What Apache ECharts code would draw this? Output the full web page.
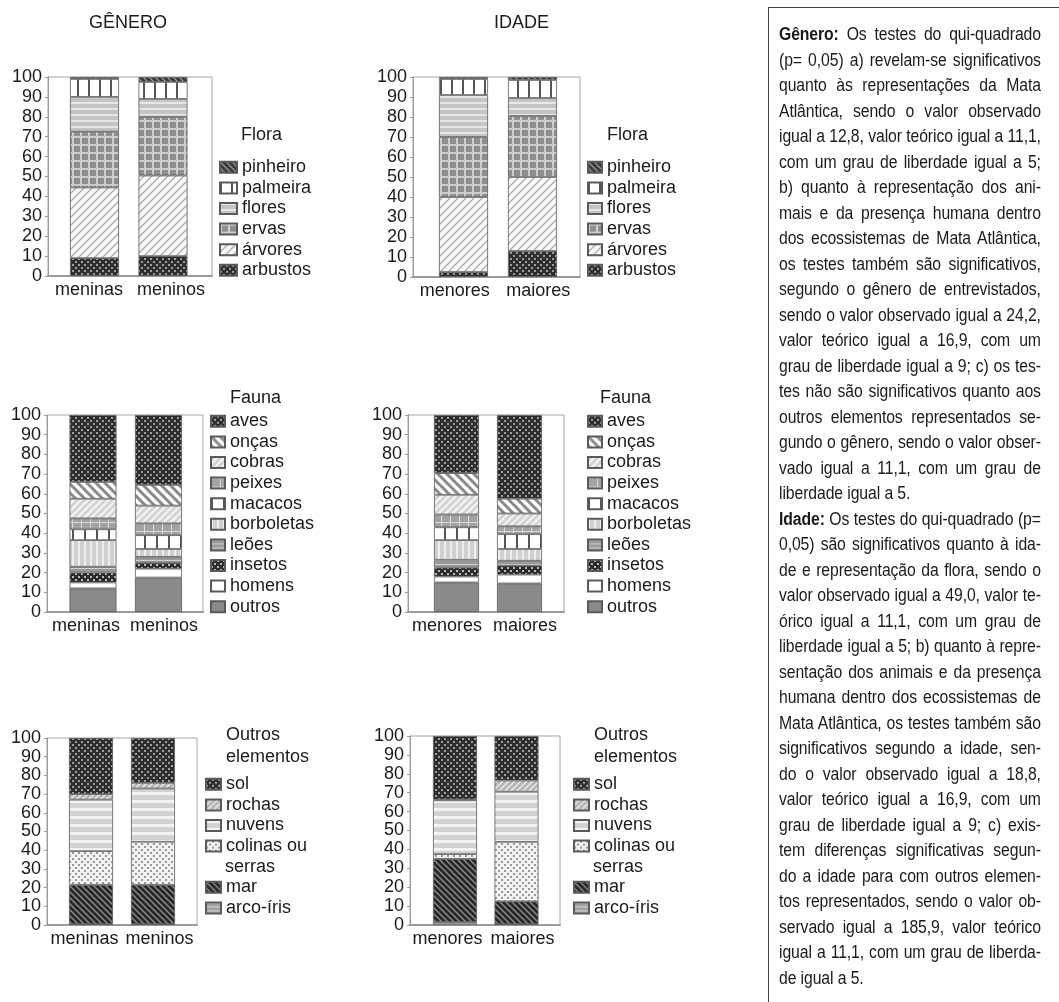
<!DOCTYPE html>
<html><head><meta charset="utf-8">
<script src="https://cdn.jsdelivr.net/npm/echarts@6/dist/echarts.min.js"></script>
<style>
html,body{margin:0;padding:0;background:#fff;}
#wrap{position:relative;width:1059px;height:1002px;overflow:hidden;}
#chart{position:absolute;left:0;top:0;width:1059px;height:1002px;}
#box{position:absolute;left:768px;top:7px;width:300px;height:1000px;border-top:1px solid #444;border-left:1px solid #444;}
#txt{position:absolute;left:779px;top:22px;font-family:'Liberation Sans',Arial,sans-serif;font-size:17.5px;color:#1a1a1a;letter-spacing:-0.1px;}
.ln{height:25.5px;line-height:25.5px;width:291px;transform:scaleX(0.9);transform-origin:0 50%;text-align:justify;text-align-last:justify;white-space:nowrap;}
.ln.end{text-align-last:left;}
</style></head>
<body><div id="wrap"><div id="chart"></div><div id="box"></div><div id="txt"></div></div>
<script>
// ---------- categories & series ----------
const generoCats = ['meninas', 'meninos'];
const idadeCats = ['menores', 'maiores'];
const floraSeries = ['arbustos', 'árvores', 'ervas', 'flores', 'palmeira', 'pinheiro'];
const faunaSeries = ['outros', 'homens', 'insetos', 'leões', 'borboletas', 'macacos', 'peixes', 'cobras', 'onças', 'aves'];
const outrosSeries = ['arco-íris', 'mar', 'colinas ou serras', 'nuvens', 'rochas', 'sol'];
const yTickLabels = ['0','10','20','30','40','50','60','70','80','90','100'];

// ---------- values (%) in series order, bottom -> top ----------
const floraMeninas = [9, 35.5, 28, 17.5, 9, 1];
const floraMeninos = [10, 40.5, 29.5, 9, 8.5, 2.5];
const floraMenores = [2.5, 37.5, 30, 21, 8, 1];
const floraMaiores = [13, 37, 30.5, 9, 9, 1.5];
const faunaMeninas = [12, 3, 5, 3, 13.5, 5.5, 5.5, 10, 8.5, 34];
const faunaMeninos = [17.5, 4.5, 3, 3, 4, 7, 6, 9, 10.5, 35.5];
const faunaMenores = [15, 3, 4.5, 4, 10, 6.5, 6.5, 10, 11, 29.5];
const faunaMaiores = [14.5, 4.5, 4.5, 2.5, 6, 7.5, 4, 6.5, 7.5, 42.5];
const outrosMeninas = [0.5, 21, 18, 27.5, 3, 30];
const outrosMeninos = [0.5, 21, 23, 28.5, 3, 24];
const outrosMenores = [1.5, 33.5, 2.5, 28.5, 0.5, 33.5];
const outrosMaiores = [0.5, 12, 31.5, 26.5, 6, 23.5];

// ---------- texts ----------
const colTitles = ['GÊNERO', 'IDADE'];
const groupTitles = ['Flora', 'Flora', 'Fauna', 'Fauna', 'Outros\nelementos', 'Outros\nelementos'];
const panelLines = [
 'Gênero: Os testes do qui-quadrado',
 '(p= 0,05) a) revelam-se significativos',
 'quanto às representações da Mata',
 'Atlântica, sendo o valor observado',
 'igual a 12,8, valor teórico igual a 11,1,',
 'com um grau de liberdade igual a 5;',
 'b) quanto à representação dos ani-',
 'mais e da presença humana dentro',
 'dos ecossistemas de Mata Atlântica,',
 'os testes também são significativos,',
 'segundo o gênero de entrevistados,',
 'sendo o valor observado igual a 24,2,',
 'valor teórico igual a 16,9, com um',
 'grau de liberdade igual a 9; c) os tes-',
 'tes não são significativos quanto aos',
 'outros elementos representados se-',
 'gundo o gênero, sendo o valor obser-',
 'vado igual a 11,1, com um grau de',
 'liberdade igual a 5.',
 'Idade: Os testes do qui-quadrado (p=',
 '0,05) são significativos quanto à ida-',
 'de e representação da flora, sendo o',
 'valor observado igual a 49,0, valor te-',
 'órico igual a 11,1, com um grau de',
 'liberdade igual a 5; b) quanto à repre-',
 'sentação dos animais e da presença',
 'humana dentro dos ecossistemas de',
 'Mata Atlântica, os testes também são',
 'significativos segundo a idade, sen-',
 'do o valor observado igual a 18,8,',
 'valor teórico igual a 16,9, com um',
 'grau de liberdade igual a 9; c) exis-',
 'tem diferenças significativas segun-',
 'do a idade para com outros elemen-',
 'tos representados, sendo o valor ob-',
 'servado igual a 185,9, valor teórico',
 'igual a 11,1, com um grau de liberda-',
 'de igual a 5.'
];
const paragraphEnds = [18, 37];

// ---------- text panel ----------
(function(){
  const host = document.getElementById('txt');
  panelLines.forEach((t, i) => {
    const d = document.createElement('div');
    d.className = 'ln' + (paragraphEnds.includes(i) ? ' end' : '');
    const m = t.match(/^(Gênero:|Idade:)(.*)$/);
    if (m) { const b = document.createElement('b'); b.textContent = m[1]; d.appendChild(b); d.appendChild(document.createTextNode(m[2])); }
    else d.textContent = t;
    host.appendChild(d);
  });
})();

// ---------- fill patterns ----------
function tile(w, h, bg, fn) {
  const c = document.createElement('canvas'); c.width = w; c.height = h;
  const g = c.getContext('2d'); g.fillStyle = bg; g.fillRect(0, 0, w, h);
  if (fn) fn(g, w, h);
  return { image: c, repeat: 'repeat' };
}
function diag(bg, fg, s, lw, dir) {
  return tile(s, s, bg, g => {
    g.strokeStyle = fg; g.lineWidth = lw; g.beginPath();
    if (dir === '/') { g.moveTo(-1, s + 1); g.lineTo(s + 1, -1); g.moveTo(-1, 1); g.lineTo(1, -1); g.moveTo(s - 1, s + 1); g.lineTo(s + 1, s - 1); }
    else { g.moveTo(-1, -1); g.lineTo(s + 1, s + 1); g.moveTo(s - 1, -1); g.lineTo(s + 1, 1); g.moveTo(-1, s - 1); g.lineTo(1, s + 1); }
    g.stroke();
  });
}
function dots(bg, fg, s, d) { return tile(s, s, bg, g => { g.fillStyle = fg; g.fillRect(0, 0, d, d); g.fillRect(s / 2, s / 2, d, d); }); }
function hlines(bg, fg, s, t) { return tile(4, s, bg, g => { g.fillStyle = fg; g.fillRect(0, 0, 4, t); }); }
function vlines(bg, fg, s, t, h) { return tile(s, h || 4, bg, g => { g.fillStyle = fg; g.fillRect(0, 0, t, h || 4); }); }
function grid2(bg, fg, s, t) { return tile(s, s, bg, g => { g.fillStyle = fg; g.fillRect(0, 0, t, s); g.fillRect(0, 0, s, t); }); }

const fills = {
  'arbustos': dots('#2e2e2e', '#9c9c9c', 6, 2),
  'árvores': diag('#f7f7f7', '#a0a0a0', 8, 1.2, '/'),
  'ervas': grid2('#8f8f8f', '#cdcdcd', 8, 2),
  'flores': hlines('#c4c4c4', '#e6e6e6', 6, 2),
  'palmeira': vlines('#ffffff', '#555555', 11, 2),
  'pinheiro': diag('#3a3a3a', '#a8a8a8', 6, 1.2, '\\'),
  'outros': '#8a8a8a',
  'homens': '#ffffff',
  'insetos': dots('#2c2c2c', '#b8b8b8', 6, 2),
  'leões': hlines('#9a9a9a', '#d0d0d0', 4, 1),
  'borboletas': vlines('#d0d0d0', '#eeeeee', 6, 2),
  'macacos': vlines('#ffffff', '#555555', 12, 2),
  'peixes': grid2('#a3a3a3', '#d8d8d8', 9, 1),
  'cobras': diag('#d4d4d4', '#f4f4f4', 7, 2, '/'),
  'onças': diag('#ffffff', '#8a8a8a', 9, 3, '\\'),
  'aves': dots('#2e2e2e', '#9c9c9c', 6, 2),
  'arco-íris': hlines('#a0a0a0', '#d2d2d2', 4, 1),
  'mar': diag('#262626', '#8a8a8a', 6, 1.5, '\\'),
  'colinas ou serras': dots('#f2f2f2', '#9a9a9a', 6, 2),
  'nuvens': hlines('#d3d3d3', '#f2f2f2', 8, 3),
  'rochas': diag('#b6b6b6', '#e8e8e8', 6, 1.5, '/'),
  'sol': dots('#2e2e2e', '#9c9c9c', 6, 2)
};

// ---------- panels ----------
const panels = [
  { cats: generoCats, names: floraSeries, vals: [floraMeninas, floraMeninos] },
  { cats: idadeCats, names: floraSeries, vals: [floraMenores, floraMaiores] },
  { cats: generoCats, names: faunaSeries, vals: [faunaMeninas, faunaMeninos] },
  { cats: idadeCats, names: faunaSeries, vals: [faunaMenores, faunaMaiores] },
  { cats: generoCats, names: outrosSeries, vals: [outrosMeninas, outrosMeninos] },
  { cats: idadeCats, names: outrosSeries, vals: [outrosMenores, outrosMaiores] }
];
// layout (pixels) for each panel: frame grid [l,t,w,h], bar band [left, width], bar width, legend [l,t,iconW], title [l,t]
const layouts = [
  { g: [48, 77, 164, 199], band: [60.25, 137], bw: 49, lg: [219, 157, 17], tt: [241, 125] },
  { g: [413, 77, 167, 200], band: [429, 138], bw: 49, lg: [587, 157, 14], tt: [607, 125] },
  { g: [47, 415, 156, 197], band: [60.25, 131], bw: 47, lg: [210, 411, 14], tt: [230, 388] },
  { g: [408, 415, 156, 197], band: [425, 126], bw: 45, lg: [587, 411, 14], tt: [600, 388] },
  { g: [47, 738, 150, 187], band: [60, 124], bw: 44, lg: [205, 774, 15], tt: [226, 724] },
  { g: [410, 736, 150, 189], band: [424.25, 123], bw: 44, lg: [573, 774, 15], tt: [594, 724] }
];

const FONT = 'Liberation Sans';
const TXT = '#1a1a1a';
const LH = 20.6;
const grids = [], xAxes = [], yAxes = [], series = [], legends = [], titles = [];

titles.push({ text: colTitles[0], left: 89, top: 14, padding: 0, textStyle: { fontSize: 18, fontWeight: 'normal', color: TXT, fontFamily: FONT } });
titles.push({ text: colTitles[1], left: 494, top: 14, padding: 0, textStyle: { fontSize: 18, fontWeight: 'normal', color: TXT, fontFamily: FONT } });

panels.forEach((p, k) => {
  const L = layouts[k];
  const fg = 2 * k, bg = 2 * k + 1;
  grids.push({ left: L.g[0], top: L.g[1], width: L.g[2], height: L.g[3], show: true, backgroundColor: '#fff', borderColor: '#a6a6a6', borderWidth: 1, containLabel: false, outerBoundsMode: 'none' });
  grids.push({ left: L.band[0], top: L.g[1], width: L.band[1], height: L.g[3], show: false, containLabel: false, outerBoundsMode: 'none' });
  xAxes.push({ type: 'category', gridIndex: fg, data: p.cats, boundaryGap: true, position: 'bottom',
    axisLine: { show: true, lineStyle: { color: '#9a9a9a', width: 2 } }, axisTick: { show: false },
    axisLabel: { fontSize: 18, color: TXT, fontFamily: FONT, margin: 5, interval: 0 }, splitLine: { show: false } });
  xAxes.push({ type: 'category', gridIndex: bg, data: p.cats, show: false, boundaryGap: true });
  yAxes.push({ type: 'value', gridIndex: fg, min: 0, max: 100, interval: 10,
    axisLine: { show: true, lineStyle: { color: '#9a9a9a' } }, axisTick: { show: true, length: 3, lineStyle: { color: '#9a9a9a' } },
    axisLabel: { fontSize: 18, color: TXT, fontFamily: FONT, margin: 6, formatter: v => yTickLabels[Math.round(v / 10)] },
    splitLine: { show: false } });
  yAxes.push({ type: 'value', gridIndex: bg, min: 0, max: 100, show: false, splitLine: { show: false } });
  p.names.forEach((nm, j) => {
    series.push({ type: 'bar', name: nm, xAxisIndex: bg, yAxisIndex: bg, stack: 'p' + k, barWidth: L.bw,
      data: p.vals.map(v => v[j]),
      itemStyle: { color: fills[nm], borderColor: '#5a5a5a', borderWidth: 0.8 },
      emphasis: { disabled: true }, animation: false });
  });
  const rev = p.names.slice().reverse();
  const lgBase = { orient: 'vertical', left: L.lg[0], padding: 0, itemGap: 0, itemWidth: L.lg[2], itemHeight: 11, icon: 'rect',
    selectedMode: false, textStyle: { fontSize: 18, color: TXT, fontFamily: FONT, lineHeight: LH } };
  titles.push({ text: groupTitles[k], left: L.tt[0], top: L.tt[1], padding: 0, textStyle: { fontSize: 18, fontWeight: 'normal', color: TXT, fontFamily: FONT, lineHeight: k >= 4 ? 22 : LH } });
  if (k < 4) {
    legends.push(Object.assign({}, lgBase, { top: L.lg[1], data: rev }));
  } else {
    const cut = rev.indexOf('colinas ou serras') + 1;
    legends.push(Object.assign({}, lgBase, { top: L.lg[1], data: rev.slice(0, cut), formatter: n => n === 'colinas ou serras' ? 'colinas ou' : n }));
    titles.push({ text: 'serras', left: L.lg[0] + L.lg[2] + 5, top: L.lg[1] + 4 * LH, padding: 0, textStyle: { fontSize: 18, fontWeight: 'normal', color: TXT, fontFamily: FONT, lineHeight: LH } });
    legends.push(Object.assign({}, lgBase, { top: L.lg[1] + 5 * LH, data: rev.slice(cut) }));
  }
});

const chart = echarts.init(document.getElementById('chart'), null, { renderer: 'canvas' });
chart.setOption({
  animation: false,
  backgroundColor: '#fff',
  textStyle: { fontFamily: FONT },
  title: titles, grid: grids, xAxis: xAxes, yAxis: yAxes, legend: legends, series: series,
  tooltip: { show: false }
});
</script></body></html>
